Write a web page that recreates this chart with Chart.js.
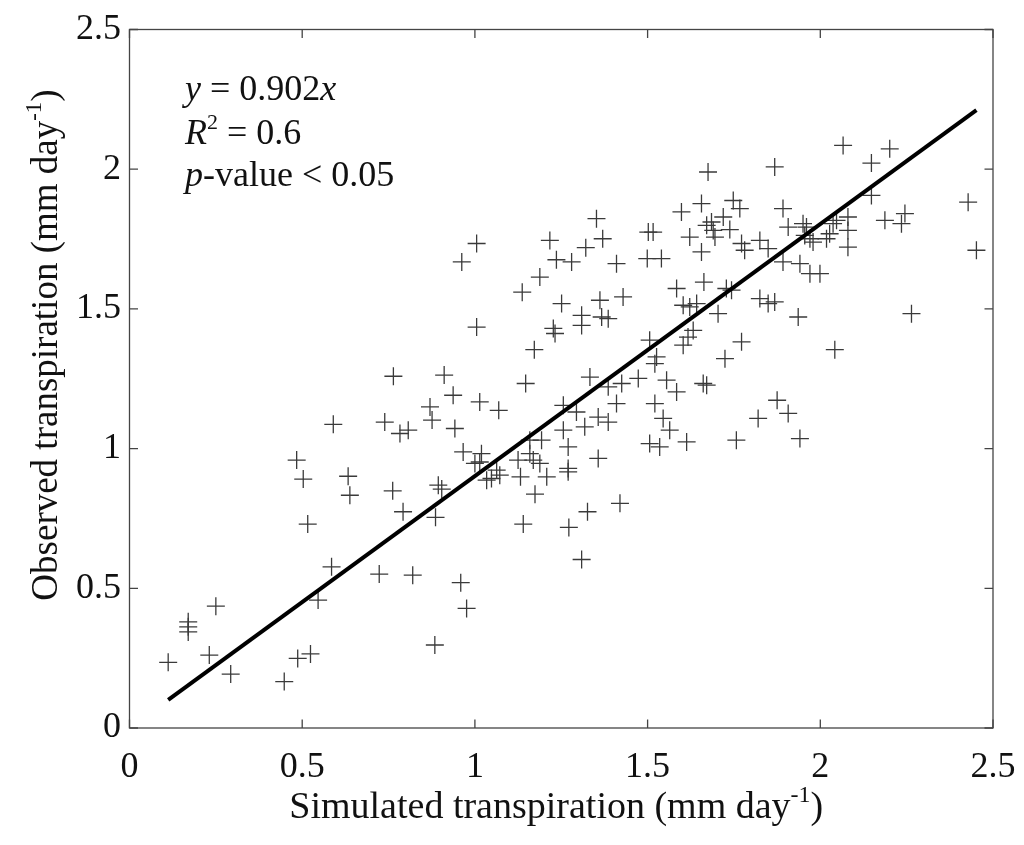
<!DOCTYPE html>
<html><head><meta charset="utf-8">
<script src="https://cdn.jsdelivr.net/npm/chart.js@4.4.0/dist/chart.umd.min.js"></script>
<style>html,body{margin:0;padding:0;background:#fff}#wrap{width:1024px;height:845px;position:relative}canvas{display:block}</style>
</head><body><div id="wrap"><canvas id="c" width="1024" height="845" style="width:1024px;height:845px"></canvas></div>
<script>
const simX = [0.112,0.170,0.170,0.170,0.250,0.231,0.293,0.448,0.487,0.524,0.546,0.585,0.516,0.503,0.638,0.762,0.792,0.723,0.820,0.484,0.633,0.590,
0.894,0.904,0.886,1.034,1.063,1.132,1.208,1.270,1.174,1.140,1.272,1.326,1.420,1.309,0.959,0.976,0.884,
1.005,0.962,1.217,1.236,1.280,1.188,1.137,1.251,1.227,1.232,1.005,1.172,1.147,0.764,0.911,0.937,0.870,0.876,1.014,1.069,0.942,0.739,0.783,0.807,
0.966,1.019,1.000,1.014,1.072,1.048,1.125,1.159,1.169,1.188,1.159,1.193,1.256,1.294,1.256,1.270,1.270,1.318,
1.352,1.370,1.321,1.410,1.502,1.516,1.499,1.540,1.598,1.656,1.748,1.767,1.719,1.685,1.671,1.690,1.738,1.622,1.695,1.656,1.772,1.781,1.825,1.849,
1.584,1.663,1.728,1.743,1.825,1.849,1.868,1.362,1.429,1.309,1.309,1.367,1.386,1.603,1.622,1.642,1.704,1.632,1.617,1.603,1.772,1.724,1.506,1.526,1.521,
1.333,1.386,1.425,1.473,1.555,1.661,1.584,1.410,1.521,1.357,1.386,1.545,1.564,1.613,1.506,1.535,1.757,1.820,1.357,
2.066,2.201,2.148,1.868,2.148,2.428,1.892,2.080,2.187,2.245,2.235,1.907,1.950,1.960,2.037,2.047,2.080,1.955,1.970,1.979,2.027,2.018,2.080,2.452,
1.892,1.941,1.970,1.999,1.936,2.264,2.042,1.875,1.907,1.941,1.675,1.671];
const obsY = [0.235,0.380,0.362,0.344,0.436,0.261,0.193,0.166,0.249,0.265,0.458,0.577,0.730,0.891,0.833,0.849,0.774,0.551,0.547,0.959,0.901,1.087,
0.869,0.855,0.754,0.887,0.923,0.899,0.899,0.917,0.837,0.730,0.718,0.774,0.804,0.603,0.520,0.428,0.297,
1.734,1.668,1.745,1.676,1.668,1.614,1.560,1.519,1.430,1.412,1.435,1.354,1.233,1.259,1.263,1.191,1.149,1.102,1.167,1.137,1.072,1.095,1.054,1.066,
0.988,0.982,0.947,0.952,0.905,0.893,0.959,0.982,0.959,0.947,1.030,1.030,1.155,1.131,1.066,1.006,0.929,1.078,
1.823,1.751,1.719,1.662,1.775,1.775,1.680,1.680,1.847,1.877,1.888,1.859,1.829,1.811,1.799,1.781,1.784,1.757,1.757,1.704,1.734,1.710,1.745,1.716,
1.573,1.596,1.573,1.567,1.537,1.519,1.525,1.531,1.543,1.477,1.441,1.471,1.465,1.513,1.507,1.519,1.483,1.423,1.399,1.370,1.382,1.322,1.388,1.328,1.304,
1.256,1.221,1.233,1.251,1.245,1.233,1.203,1.161,1.161,1.113,1.095,1.108,1.066,1.024,1.018,1.006,1.030,1.108,0.965,
2.085,2.073,2.022,2.008,1.906,1.882,1.859,1.829,1.817,1.841,1.805,1.793,1.805,1.793,1.805,1.817,1.781,1.763,1.751,1.739,1.769,1.751,1.721,1.710,
1.668,1.662,1.626,1.626,1.471,1.483,1.354,1.173,1.126,1.036,1.990,1.227];
const xTicks = [0, 0.5, 1, 1.5, 2, 2.5];
const yTicks = [0, 0.5, 1, 1.5, 2, 2.5];
const xTickLabels = ['0', '0.5', '1', '1.5', '2', '2.5'];
const yTickLabels = ['0', '0.5', '1', '1.5', '2', '2.5'];
const fitSlope = 0.902;
const fitX = [0.112, 2.452];
const xTitle = ['Simulated transpiration (mm day', '-1', ')'];
const yTitle = ['Observed transpiration (mm day', '-1', ')'];
const statLines = [
  [{t:'y',i:1},{t:' = 0.902'},{t:'x',i:1}],
  [{t:'R',i:1},{t:'2',s:1},{t:' = 0.6'}],
  [{t:'p',i:1},{t:'-value < 0.05'}]
];

const SERIF = '"Liberation Serif", "Times New Roman", serif';
const points = simX.map((x,k)=>({x, y: obsY[k]}));
const fitLine = fitX.map(x=>({x, y: fitSlope*x}));

function drawTitle(ctx, parts, size){
  const supSize = Math.round(size*0.62);
  ctx.font = size+'px '+SERIF;
  const w0 = ctx.measureText(parts[0]).width;
  const w2 = ctx.measureText(parts[2]).width;
  ctx.font = supSize+'px '+SERIF;
  const w1 = ctx.measureText(parts[1]).width;
  let x = -(w0+w1+w2)/2;
  ctx.font = size+'px '+SERIF; ctx.fillText(parts[0], x, 0); x += w0;
  ctx.font = supSize+'px '+SERIF; ctx.fillText(parts[1], x, -size*0.42); x += w1;
  ctx.font = size+'px '+SERIF; ctx.fillText(parts[2], x, 0);
}

const frame = {
  id: 'frame',
  afterDraw(chart){
    const {ctx, chartArea:a, scales:{x, y}} = chart;
    ctx.save();
    ctx.strokeStyle = '#444'; ctx.lineWidth = 1.3;
    ctx.strokeRect(a.left, a.top, a.right-a.left, a.bottom-a.top);
    const tl = 8.5;
    ctx.beginPath();
    x.ticks.forEach(t=>{const p=x.getPixelForValue(t.value); ctx.moveTo(p,a.bottom); ctx.lineTo(p,a.bottom-tl); ctx.moveTo(p,a.top); ctx.lineTo(p,a.top+tl);});
    y.ticks.forEach(t=>{const p=y.getPixelForValue(t.value); ctx.moveTo(a.left,p); ctx.lineTo(a.left+tl,p); ctx.moveTo(a.right,p); ctx.lineTo(a.right-tl,p);});
    ctx.stroke();
    ctx.fillStyle = '#111'; ctx.textBaseline = 'alphabetic'; ctx.textAlign = 'left';
    ctx.save(); ctx.translate((a.left+a.right)/2 - 5, 818); drawTitle(ctx, xTitle, 38); ctx.restore();
    ctx.save(); ctx.translate(57, 345); ctx.rotate(-Math.PI/2); drawTitle(ctx, yTitle, 37); ctx.restore();
    const size = 36, base = [100, 144, 186];
    statLines.forEach((runs, li)=>{
      let px = 185;
      runs.forEach(r=>{
        const fs = r.s ? Math.round(size*0.6) : size;
        ctx.font = (r.i ? 'italic ' : '') + fs + 'px ' + SERIF;
        ctx.fillText(r.t, px, base[li] - (r.s ? size*0.42 : 0));
        px += ctx.measureText(r.t).width;
      });
    });
    ctx.restore();
  }
};

new Chart(document.getElementById('c'), {
  type: 'scatter',
  data: { datasets: [
    { type:'line', data: fitLine, borderColor:'#000', borderWidth:4, pointRadius:0, fill:false, order:0 },
    { data: points, pointStyle:'cross', pointRadius:9, borderColor:'#3a3a3a', borderWidth:1.3, backgroundColor:'#3a3a3a', order:1 }
  ]},
  options: {
    responsive:false, animation:false, devicePixelRatio:1,
    layout:{ padding:{ left:0, right:31, top:29.5, bottom:0 } },
    plugins:{ legend:{display:false}, tooltip:{enabled:false} },
    scales:{
      x:{ type:'linear', min:0, max:2.5,
        afterBuildTicks: s=>{ s.ticks = xTicks.map(v=>({value:v})); },
        afterFit: s=>{ s.height = 117; s.paddingLeft = 0; s.paddingRight = 0; },
        grid:{display:false, drawTicks:false}, border:{display:false},
        ticks:{ autoSkip:false, maxRotation:0, padding:18, color:'#111', font:{family:SERIF, size:36},
          callback:(v,i)=>xTickLabels[i] } },
      y:{ type:'linear', min:0, max:2.5,
        afterBuildTicks: s=>{ s.ticks = yTicks.map(v=>({value:v})); },
        afterFit: s=>{ s.width = 129.5; s.paddingTop = 0; s.paddingBottom = 0; },
        grid:{display:false, drawTicks:false}, border:{display:false},
        ticks:{ autoSkip:false, padding:8.5, color:'#111', font:{family:SERIF, size:36},
          callback:(v,i)=>yTickLabels[i] } }
    }
  },
  plugins:[frame]
});
</script></body></html>
